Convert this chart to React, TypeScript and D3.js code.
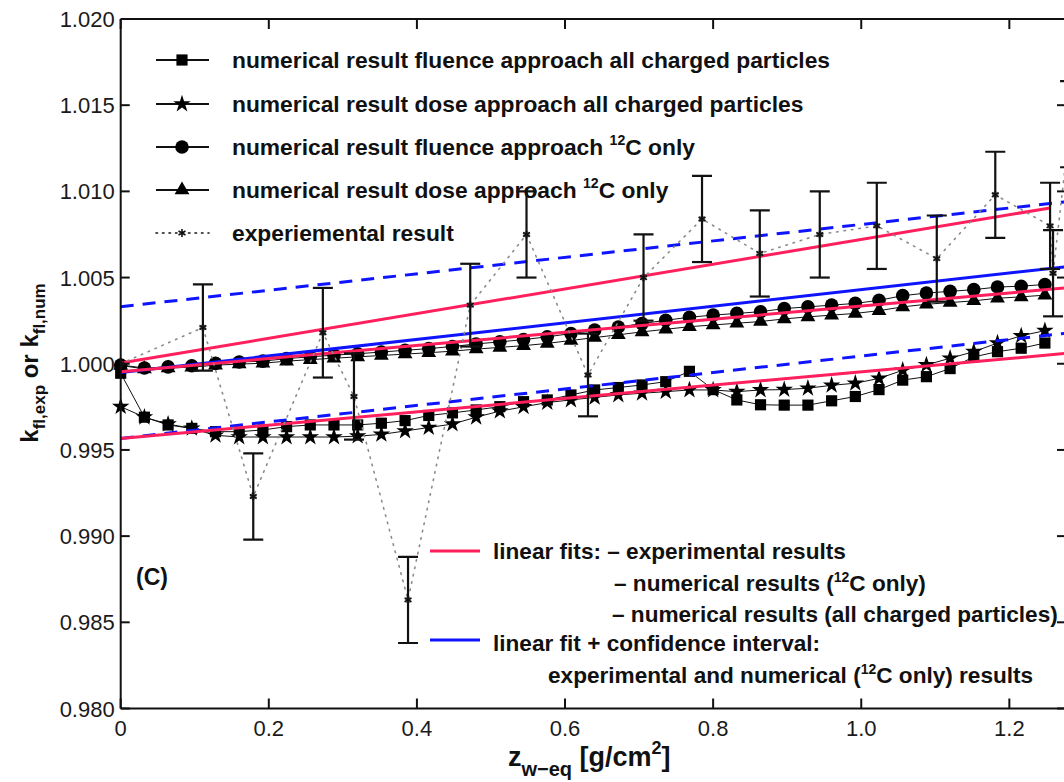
import React from 'react';
import * as d3 from 'd3';

// ---------- data ----------
const numX = [0.000, 0.032, 0.064, 0.096, 0.128, 0.160, 0.192, 0.224, 0.256, 0.288,
  0.320, 0.352, 0.384, 0.416, 0.448, 0.480, 0.512, 0.544, 0.576, 0.608,
  0.640, 0.672, 0.704, 0.736, 0.768, 0.800, 0.832, 0.864, 0.896, 0.928,
  0.960, 0.992, 1.024, 1.056, 1.088, 1.120, 1.152, 1.184, 1.216, 1.248];

// squares: numerical result fluence approach all charged particles
const fluenceAll = [0.99945, 0.99690, 0.99645, 0.99625, 0.99606, 0.99606, 0.99616, 0.99635, 0.99645, 0.99645,
  0.99645, 0.99655, 0.99670, 0.99700, 0.99715, 0.99732, 0.99751, 0.99780, 0.99790, 0.99819,
  0.99848, 0.99862, 0.99877, 0.99896, 0.99956, 0.99850, 0.99790, 0.99762, 0.99760, 0.99760,
  0.99785, 0.99810, 0.99850, 0.99905, 0.99925, 0.99972, 1.00040, 1.00070, 1.00090, 1.00120];

// stars: numerical result dose approach all charged particles
const doseAll = [0.99751, 0.99690, 0.99650, 0.99625, 0.99585, 0.99575, 0.99575, 0.99575, 0.99575, 0.99575,
  0.99580, 0.99590, 0.99610, 0.99630, 0.99650, 0.99690, 0.99725, 0.99750, 0.99775, 0.99790,
  0.99805, 0.99819, 0.99829, 0.99838, 0.99848, 0.99848, 0.99838, 0.99848, 0.99850, 0.99858,
  0.99875, 0.99887, 0.99915, 0.99962, 0.99993, 1.00032, 1.00070, 1.00120, 1.00162, 1.00192];

// circles: numerical result fluence approach 12C only
const fluenceC12 = [0.99993, 0.99975, 0.99982, 0.99988, 1.00002, 1.00010, 1.00015, 1.00030, 1.00040, 1.00050,
  1.00058, 1.00068, 1.00078, 1.00088, 1.00100, 1.00115, 1.00127, 1.00140, 1.00156, 1.00175,
  1.00195, 1.00213, 1.00233, 1.00252, 1.00270, 1.00282, 1.00292, 1.00302, 1.00320, 1.00330,
  1.00340, 1.00350, 1.00368, 1.00395, 1.00410, 1.00420, 1.00430, 1.00445, 1.00450, 1.00460];

// triangles: numerical result dose approach 12C only
const doseC12 = [0.99990, 0.99970, 0.99975, 0.99980, 0.99992, 0.99998, 1.00003, 1.00015, 1.00024, 1.00032,
  1.00040, 1.00048, 1.00056, 1.00064, 1.00073, 1.00085, 1.00095, 1.00105, 1.00118, 1.00135,
  1.00152, 1.00168, 1.00185, 1.00200, 1.00215, 1.00225, 1.00235, 1.00245, 1.00260, 1.00272,
  1.00282, 1.00292, 1.00308, 1.00330, 1.00345, 1.00355, 1.00365, 1.00380, 1.00388, 1.00398];

// experimental result with error bars
const expX = [0.000, 0.111, 0.179, 0.273, 0.315, 0.388, 0.472, 0.548, 0.631, 0.706,
  0.785, 0.863, 0.944, 1.021, 1.102, 1.181, 1.255, 1.259, 1.282];
const expY = [1.0000, 1.0021, 0.9923, 1.0018, 0.9981, 0.9863, 1.0034, 1.0075, 0.99935, 1.0050,
  1.0084, 1.0064, 1.0075, 1.0080, 1.0061, 1.0098, 1.0080, 1.00525, 1.0139];
const expErr = [0, 0.0025, 0.0025, 0.0026, 0.0025, 0.0025, 0.0024, 0.0025, 0.0024, 0.0025,
  0.0025, 0.0025, 0.0025, 0.0025, 0.0025, 0.0025, 0.0025, 0.0025, 0.0025];

// linear fits
const fitExpX = [0, 1.255];
const fitExpY = [1.00004, 1.00904];
const fitX = [0, 1.2765];
const fitC12Y = [0.99954, 1.00440];
const fitAllY = [0.99567, 1.00060];
const ciCenterY = [0.99949, 1.00563];
const ciUpperY = [1.00331, 1.00940];
const ciLowerY = [0.99567, 1.00177];

const xTicks = [0, 0.2, 0.4, 0.6, 0.8, 1.0, 1.2];
const xTickLabels = ['0', '0.2', '0.4', '0.6', '0.8', '1.0', '1.2'];
const yTicks = [0.980, 0.985, 0.990, 0.995, 1.000, 1.005, 1.010, 1.015, 1.020];
const yTickLabels = ['0.980', '0.985', '0.990', '0.995', '1.000', '1.005', '1.010', '1.015', '1.020'];

// ---------- layout ----------
const W = 1064, H = 782;
const L = 120.7, R = 1066, T = 19, B = 708.5;
const RED = '#ff1f5c';
const BLUE = '#0f14ff';
const FONT = '"Liberation Sans", Arial, Helvetica, sans-serif';

const x = d3.scaleLinear().domain([0, 1.2765]).range([L, R]);
const y = d3.scaleLinear().domain([0.98, 1.02]).range([B, T]);

const sym = {
  square: d3.symbol().type(d3.symbolSquare).size(125)(),
  star: d3.symbol().type(d3.symbolStar).size(95)(),
  circle: d3.symbol().type(d3.symbolCircle).size(145)(),
  triangle: d3.symbol().type(d3.symbolTriangle).size(95)(),
  asterisk: d3.symbol().type(d3.symbolAsterisk).size(45)(),
};

const line = d3.line<[number, number]>().x(d => x(d[0])).y(d => y(d[1]));
const zip = (xs: number[], ys: number[]) => xs.map((v, i) => [v, ys[i]] as [number, number]);

const numSeries = [
  { vals: fluenceAll, shape: sym.square },
  { vals: doseAll, shape: sym.star },
  { vals: fluenceC12, shape: sym.circle },
  { vals: doseC12, shape: sym.triangle },
];

const legendTop = [
  { shape: sym.square, parts: ['numerical result fluence approach all charged particles'] },
  { shape: sym.star, parts: ['numerical result dose approach all charged particles'] },
  { shape: sym.circle, parts: ['numerical result fluence approach ', '12', 'C only'] },
  { shape: sym.triangle, parts: ['numerical result dose approach ', '12', 'C only'] },
];
const legendRowsY = [60, 104, 147, 190, 233];

function TextParts({ parts, x0, y0, size }: { parts: string[]; x0: number; y0: number; size: number }) {
  if (parts.length === 1) return <text x={x0} y={y0}>{parts[0]}</text>;
  return (
    <text x={x0} y={y0}>
      {parts[0]}
      <tspan fontSize={size * 0.62} dy={-size * 0.42}>{parts[1]}</tspan>
      <tspan dy={size * 0.42}>{parts[2]}</tspan>
    </text>
  );
}

export default function App() {
  return (
    <svg width={W} height={H} style={{ position: 'absolute', left: 0, top: 0, background: '#fff' }}
      fontFamily={FONT}>
      <defs>
        <clipPath id="plot">
          <rect x={L} y={T} width={R - L} height={B - T} />
        </clipPath>
      </defs>
      <rect x={0} y={0} width={W} height={H} fill="#fff" />

      {/* numerical series */}
      <g>
        {numSeries.map((s, i) => (
          <g key={i}>
            <path d={line(zip(numX, s.vals)) || ''} fill="none" stroke="#111" strokeWidth={1} />
            {s.vals.map((v, j) => (
              <path key={j} d={s.shape} transform={`translate(${x(numX[j])},${y(v)})`} fill="#000" />
            ))}
          </g>
        ))}
      </g>

      {/* linear fits */}
      <g clipPath="url(#plot)" fill="none">
        <path d={line(zip(fitX, ciUpperY)) || ''} stroke={BLUE} strokeWidth={3} strokeDasharray="13,9" />
        <path d={line(zip(fitX, ciLowerY)) || ''} stroke={BLUE} strokeWidth={3} strokeDasharray="13,9" />
        <path d={line(zip(fitX, ciCenterY)) || ''} stroke={BLUE} strokeWidth={3} />
        <path d={line(zip(fitX, fitC12Y)) || ''} stroke={RED} strokeWidth={3} />
        <path d={line(zip(fitX, fitAllY)) || ''} stroke={RED} strokeWidth={3} />
        <path d={line(zip(fitExpX, fitExpY)) || ''} stroke={RED} strokeWidth={3} />
      </g>

      {/* experimental */}
      <g clipPath="url(#plot)">
        <path d={line(zip(expX, expY)) || ''} fill="none" stroke="#8a8a8a" strokeWidth={1.6}
          strokeDasharray="1.5,6" strokeLinecap="round" />
        {expX.map((xv, i) => expErr[i] > 0 ? (
          <g key={i} stroke="#111" strokeWidth={2.2}>
            <line x1={x(xv)} x2={x(xv)} y1={y(expY[i] + expErr[i])} y2={y(expY[i] - expErr[i])} />
            <line x1={x(xv) - 10} x2={x(xv) + 10} y1={y(expY[i] + expErr[i])} y2={y(expY[i] + expErr[i])} />
            <line x1={x(xv) - 10} x2={x(xv) + 10} y1={y(expY[i] - expErr[i])} y2={y(expY[i] - expErr[i])} />
          </g>
        ) : null)}
        {expX.map((xv, i) => (
          <g key={'m' + i} transform={`translate(${x(xv)},${y(expY[i])})`}>
            <circle r={3.2} fill="#333" opacity={0.6} />
            <path d={sym.asterisk} fill="none" stroke="#111" strokeWidth={1.6} />
          </g>
        ))}
      </g>

      {/* axes */}
      <g stroke="#111" strokeWidth={2} fill="none">
        <line x1={L} x2={R} y1={B} y2={B} />
        <line x1={L} x2={R} y1={T} y2={T} />
        <line x1={L} x2={L} y1={T} y2={B} />
        <line x1={R} x2={R} y1={T} y2={B} />
        {xTicks.map((t, i) => (
          <g key={i}>
            <line x1={x(t)} x2={x(t)} y1={B} y2={B - 10} />
            <line x1={x(t)} x2={x(t)} y1={T} y2={T + 10} />
          </g>
        ))}
        {yTicks.map((t, i) => (
          <g key={i}>
            <line x1={L} x2={L + 9} y1={y(t)} y2={y(t)} />
            <line x1={R} x2={R - 9} y1={y(t)} y2={y(t)} />
          </g>
        ))}
      </g>
      <g fontSize={22} fill="#1a1a1a">
        {xTicks.map((t, i) => (
          <text key={i} x={x(t)} y={B + 27} textAnchor="middle">{xTickLabels[i]}</text>
        ))}
        {yTicks.map((t, i) => (
          <text key={i} x={L - 6} y={y(t) + 8} textAnchor="end">{yTickLabels[i]}</text>
        ))}
      </g>

      {/* axis titles */}
      <text x={508} y={766} fontSize={27} fontWeight="bold" fill="#111">
        z<tspan fontSize={20} dy={10}>w−eq</tspan>
        <tspan dy={-10}> [g/cm</tspan>
        <tspan fontSize={18} dy={-12}>2</tspan>
        <tspan dy={12}>]</tspan>
      </text>
      <text transform="translate(38,363) rotate(-90)" textAnchor="middle" fontSize={24} fontWeight="bold" fill="#111">
        k<tspan fontSize={17} dy={7}>fl,exp</tspan>
        <tspan dy={-7}> or k</tspan>
        <tspan fontSize={17} dy={7}>fl,num</tspan>
      </text>

      {/* top legend */}
      <g fontSize={22.8} fontWeight="bold" fill="#111">
        {legendTop.map((e, i) => (
          <g key={i}>
            <line x1={156} x2={209} y1={legendRowsY[i]} y2={legendRowsY[i]} stroke="#111" strokeWidth={2} />
            <path d={e.shape} transform={`translate(182,${legendRowsY[i]})`} fill="#000" />
            <TextParts parts={e.parts} x0={232} y0={legendRowsY[i] + 8} size={22.8} />
          </g>
        ))}
        <line x1={156} x2={209} y1={legendRowsY[4]} y2={legendRowsY[4]} stroke="#111" strokeWidth={1.6}
          strokeDasharray="1.5,5" strokeLinecap="round" />
        <path d={sym.asterisk} transform={`translate(182,${legendRowsY[4]})`} fill="none" stroke="#111" strokeWidth={1.6} />
        <text x={232} y={legendRowsY[4] + 8}>experiemental result</text>
      </g>

      {/* (C) */}
      <text x={136} y={585} fontSize={23} fontWeight="bold" fill="#111">(C)</text>

      {/* bottom legend */}
      <g fontSize={22.6} fontWeight="bold" fill="#111">
        <line x1={430} x2={480} y1={551} y2={551} stroke={RED} strokeWidth={3} />
        <text x={493} y={559}>linear fits: – experimental results</text>
        <text x={614} y={591}>– numerical results (<tspan fontSize={14} dy={-9}>12</tspan><tspan dy={9}>C only)</tspan></text>
        <text x={612} y={622}>– numerical results (all charged particles)</text>
        <line x1={430} x2={480} y1={640} y2={640} stroke={BLUE} strokeWidth={3} />
        <text x={493} y={651}>linear fit + confidence interval:</text>
        <text x={548} y={683}>experimental and numerical (<tspan fontSize={14} dy={-9}>12</tspan><tspan dy={9}>C only) results</tspan></text>
      </g>
    </svg>
  );
}
